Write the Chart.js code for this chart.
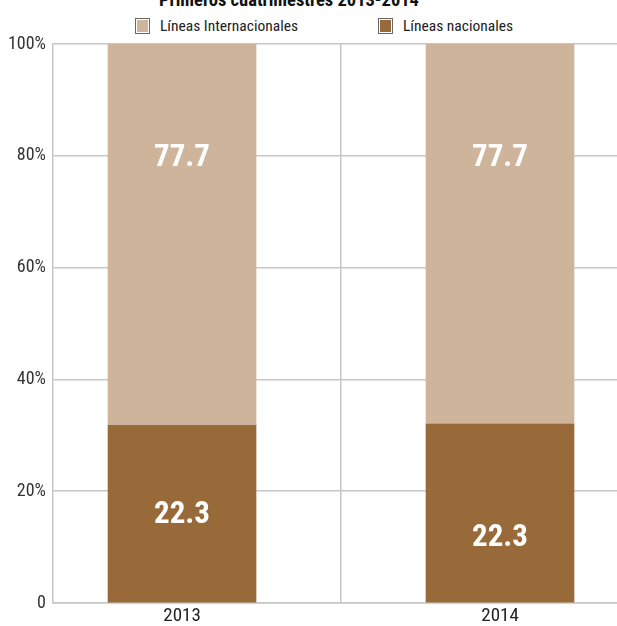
<!DOCTYPE html>
<html>
<head>
<meta charset="utf-8">
<script src="https://cdn.jsdelivr.net/npm/chart.js@4.4.1/dist/chart.umd.min.js"></script>
<style>
  html, body { margin: 0; padding: 0; background: #fff; }
  #wrap { position: relative; width: 617px; height: 626px; overflow: hidden; font-family: "Roboto Condensed", "Roboto", sans-serif; }
  #title { position: absolute; left: 89px; width: 400px; text-align: center; top: -10px; font-size: 18.5px; line-height: 20px; font-weight: bold; color: #111; white-space: nowrap; }
  .leg { position: absolute; top: 17px; display: flex; align-items: center; font-size: 15.5px; color: #222; white-space: nowrap; }
  .leg .box { width: 13px; height: 14px; border: 1.5px solid #666; box-shadow: inset 0 0 0 1px #fff; margin-right: 10px; }
  canvas { position: absolute; left: 0; top: 0; }
</style>
</head>
<body>
<div id="wrap">
  <div id="title">Primeros cuatrimestres 2013-2014</div>
  <div class="leg" style="left:135px"><span class="box" id="b1"></span><span id="t1"></span></div>
  <div class="leg" style="left:378px"><span class="box" id="b2"></span><span id="t2"></span></div>
  <canvas id="c" width="617" height="626"></canvas>
</div>
<script>
// ---- data ----
const categories = ['2013', '2014'];
const seriesNames = ['Líneas nacionales', 'Líneas Internacionales'];
const nacionales = [31.8, 32.0];
const internacionales = [68.2, 68.0];
const nacionalesLabels = ['22.3', '22.3'];
const internacionalesLabels = ['77.7', '77.7'];
const yTicks = [0, 20, 40, 60, 80, 100];

const colNac = '#996A39';
const colInt = '#CDB49A';

document.getElementById('b1').style.background = colInt;
document.getElementById('t1').textContent = seriesNames[1];
document.getElementById('b2').style.background = colNac;
document.getElementById('t2').textContent = seriesNames[0];

const FONT = '"Roboto Condensed", "Roboto", sans-serif';

const labelPlugin = {
  id: 'barLabels',
  afterDatasetsDraw(chart, args, opts) {
    const ctx = chart.ctx;
    const ys = chart.scales.y;
    ctx.save();
    ctx.fillStyle = '#fff';
    ctx.font = 'bold 31px ' + FONT;
    ctx.textAlign = 'center';
    ctx.textBaseline = 'alphabetic';
    chart.data.datasets.forEach((ds, di) => {
      const meta = chart.getDatasetMeta(di);
      meta.data.forEach((bar, i) => {
        const yv = opts.at[di][i];
        const y = ys.getPixelForValue(yv) + 11;
        ctx.fillText(ds.labelTexts[i], bar.x, y);
      });
    });
    ctx.restore();
  }
};

new Chart(document.getElementById('c'), {
  type: 'bar',
  data: {
    datasets: [
      { label: seriesNames[0], data: nacionales.map((v, i) => ({ x: i, y: v })), backgroundColor: colNac, labelTexts: nacionalesLabels, barThickness: 148 },
      { label: seriesNames[1], data: internacionales.map((v, i) => ({ x: i, y: v })), backgroundColor: colInt, labelTexts: internacionalesLabels, barThickness: 148 }
    ]
  },
  plugins: [labelPlugin],
  options: {
    responsive: false,
    animation: false,
    layout: { padding: { top: 44, right: 0, left: 0, bottom: 0 } },
    plugins: {
      legend: { display: false },
      title: { display: false },
      tooltip: { enabled: false },
      barLabels: { at: [[16.2, 12.2], [80.2, 80.2]] }
    },
    scales: {
      x: {
        type: 'linear',
        stacked: true,
        offset: false,
        min: -0.4057,
        max: 1.3679,
        afterBuildTicks: s => { s.ticks = [{ value: 0 }, { value: 0.5 }, { value: 1 }]; },
        afterFit: s => { s.height = 23; },
        ticks: {
          padding: 2,
          color: '#222',
          font: { family: FONT, size: 19 },
          callback: v => (v === 0 ? categories[0] : v === 1 ? categories[1] : '')
        },
        grid: {
          offset: false,
          drawTicks: false,
          color: c => (c.tick && c.tick.value === 0.5 ? '#c6c6c6' : 'rgba(0,0,0,0)'),
          lineWidth: 1.5
        },
        border: { color: '#c6c6c6', width: 1.5 }
      },
      y: {
        stacked: true,
        min: 0,
        max: 100,
        afterBuildTicks: s => { s.ticks = yTicks.map(v => ({ value: v })); },
        afterFit: s => { s.width = 53; },
        ticks: {
          padding: 7,
          color: '#333',
          font: { family: FONT, size: 18 },
          callback: v => (v === 0 ? '0' : v + '%')
        },
        grid: { drawTicks: false, color: '#c6c6c6', lineWidth: 1.5 },
        border: { color: '#c6c6c6', width: 1.5 }
      }
    }
  }
});
</script>
</body>
</html>
